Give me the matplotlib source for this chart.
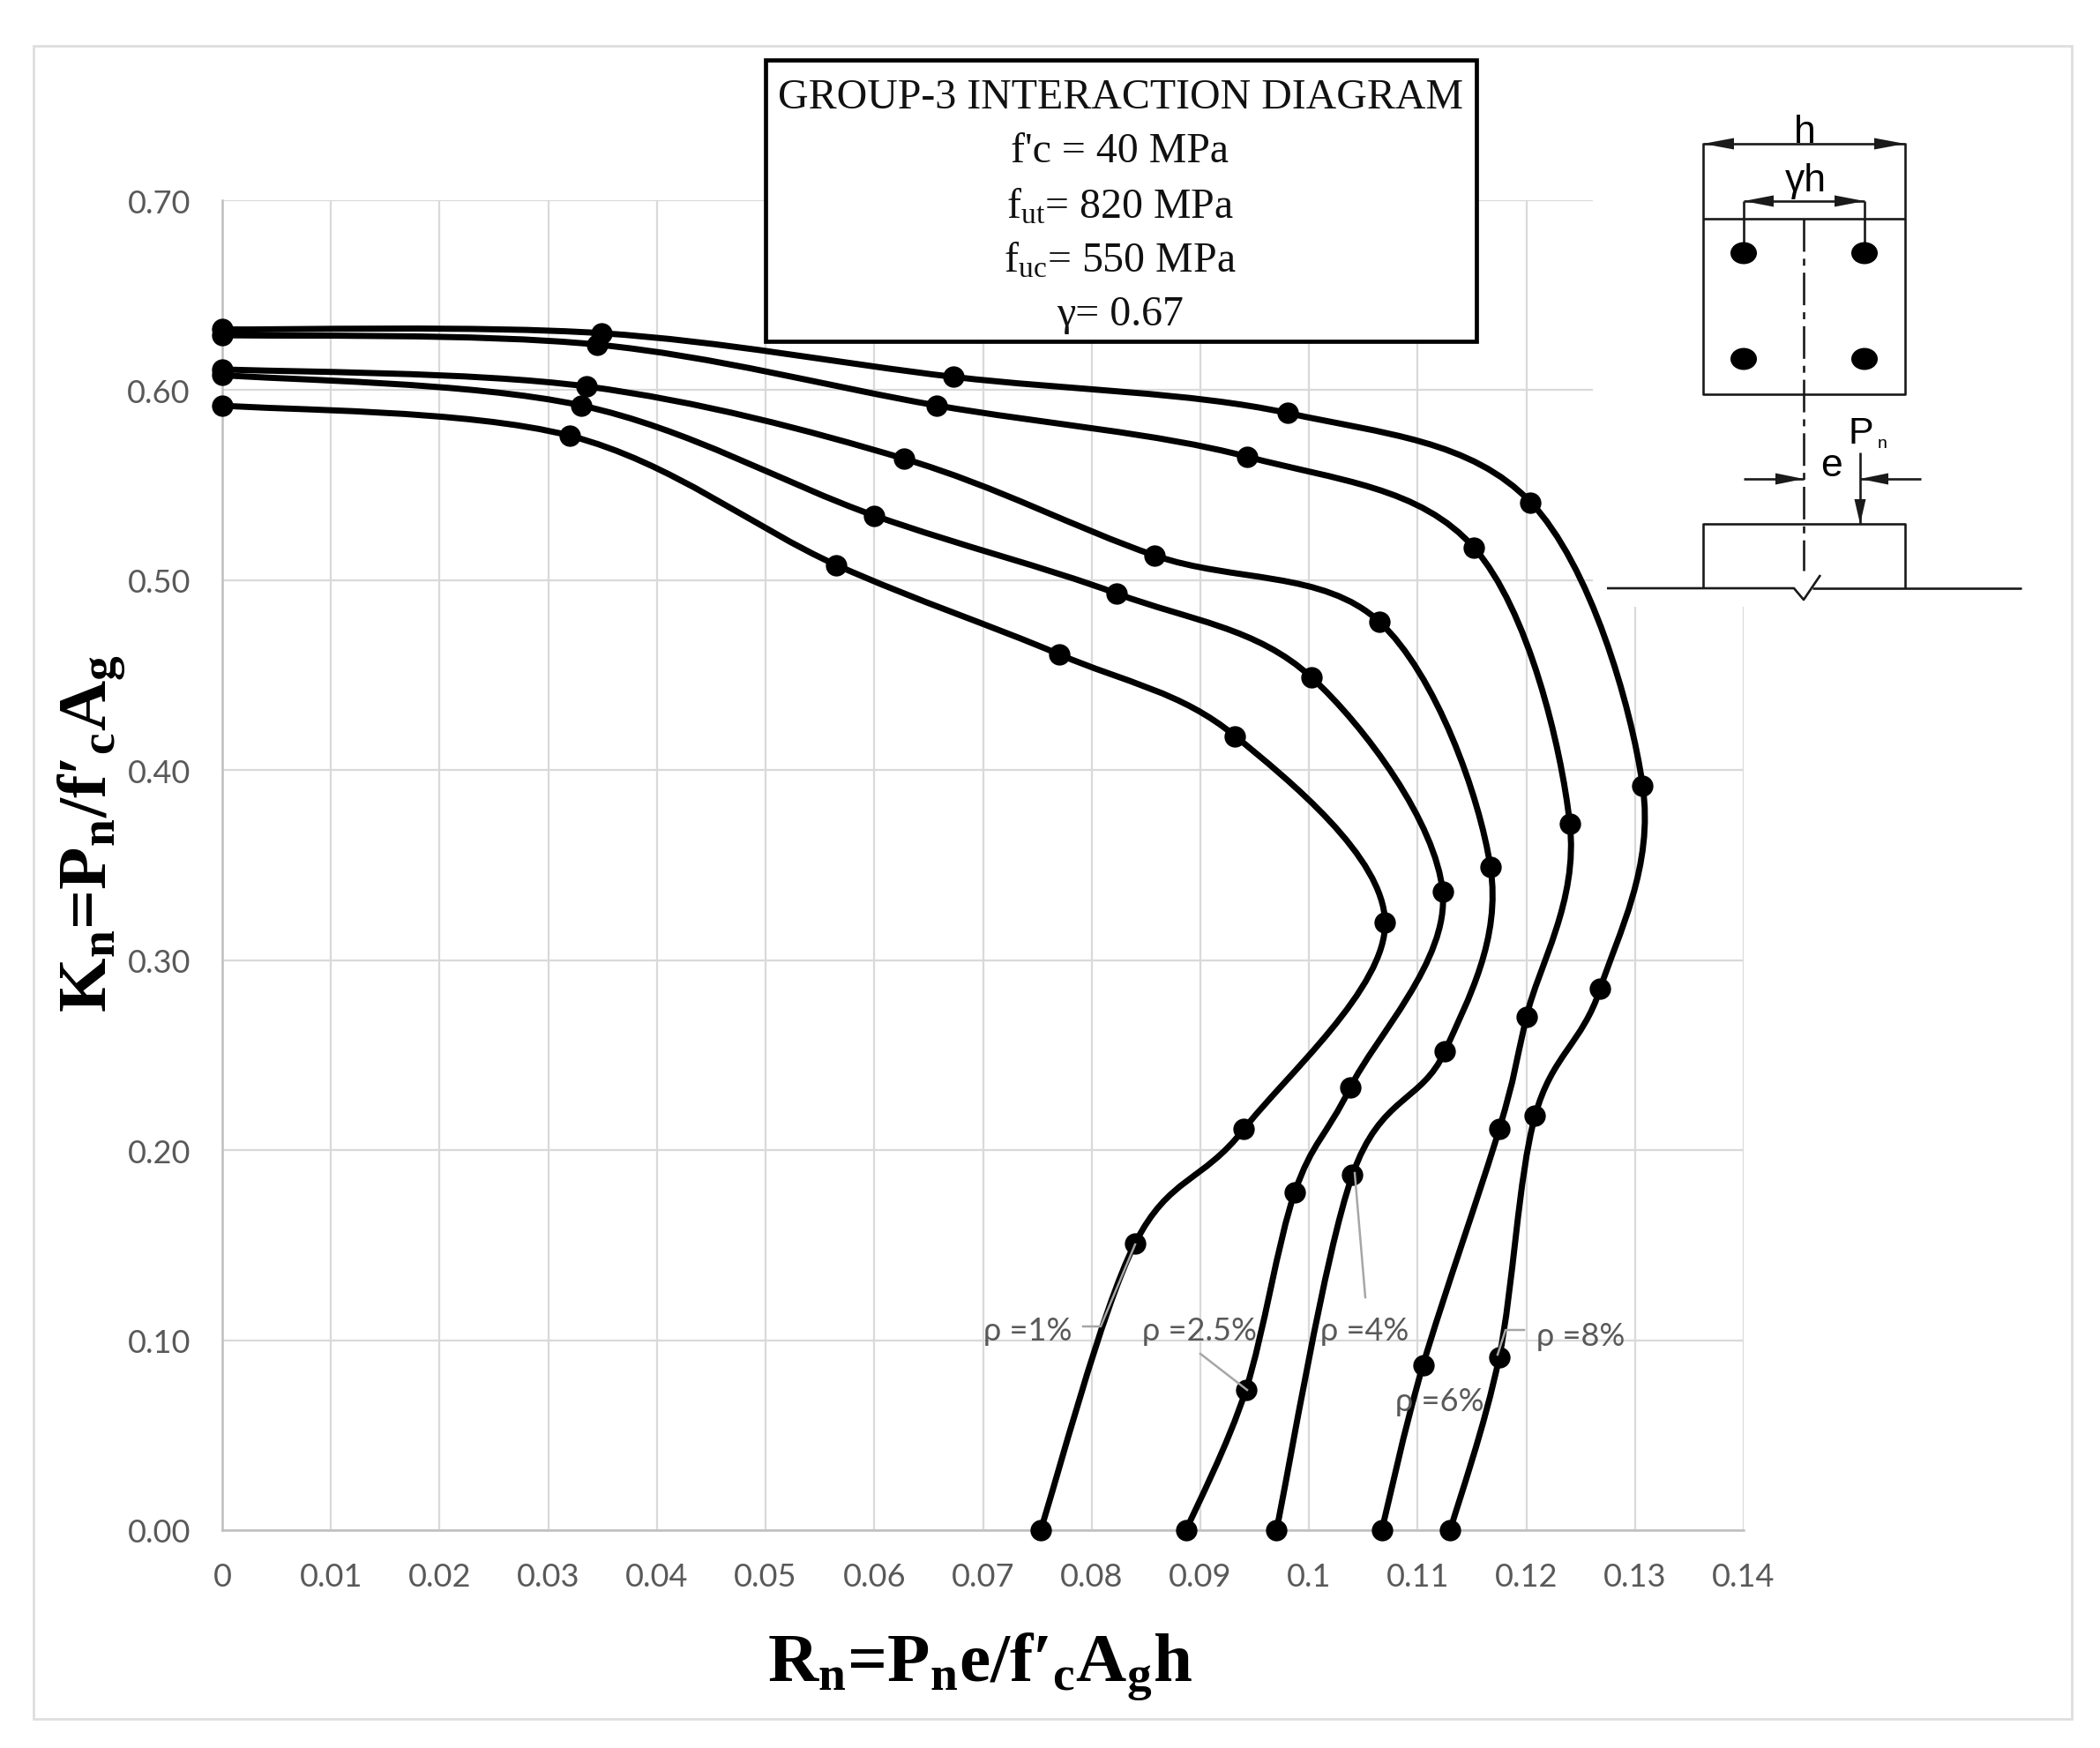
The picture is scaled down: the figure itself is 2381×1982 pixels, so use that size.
import numpy as np
import matplotlib
matplotlib.use("Agg")
import matplotlib.pyplot as plt
from matplotlib.path import Path
from matplotlib.patches import PathPatch, Rectangle, Ellipse, Polygon
from matplotlib.transforms import Affine2D

plt.rcParams['mathtext.fontset'] = 'custom'
plt.rcParams['mathtext.rm'] = 'Liberation Serif'
plt.rcParams['mathtext.it'] = 'Liberation Serif'
plt.rcParams['mathtext.bf'] = 'Liberation Serif:bold'

# ---------- data ----------
rho1_x = [0, 0.032, 0.0565, 0.077, 0.0932, 0.107, 0.094, 0.084, 0.0753]
rho1_y = [0.592, 0.576, 0.508, 0.461, 0.418, 0.320, 0.211, 0.151, 0.0]
rho25_x = [0, 0.033, 0.060, 0.0823, 0.1002, 0.1123, 0.1038, 0.0987, 0.0942, 0.0887]
rho25_y = [0.608, 0.592, 0.534, 0.493, 0.449, 0.336, 0.233, 0.178, 0.074, 0.0]
rho4_x = [0, 0.0335, 0.0627, 0.0858, 0.1065, 0.1167, 0.1125, 0.104, 0.097]
rho4_y = [0.611, 0.602, 0.564, 0.513, 0.478, 0.349, 0.252, 0.187, 0.0]
rho6_x = [0, 0.0345, 0.0657, 0.0943, 0.1152, 0.124, 0.120, 0.1175, 0.1105, 0.1067]
rho6_y = [0.629, 0.624, 0.592, 0.565, 0.517, 0.372, 0.270, 0.211, 0.087, 0.0]
rho8_x = [0, 0.0349, 0.0673, 0.098, 0.1204, 0.1307, 0.1268, 0.1208, 0.1175, 0.113]
rho8_y = [0.632, 0.630, 0.607, 0.588, 0.541, 0.392, 0.285, 0.218, 0.091, 0.0]
series = [(rho1_x, rho1_y), (rho25_x, rho25_y), (rho4_x, rho4_y), (rho6_x, rho6_y), (rho8_x, rho8_y)]

x_ticks = [0, 0.01, 0.02, 0.03, 0.04, 0.05, 0.06, 0.07, 0.08, 0.09, 0.1, 0.11, 0.12, 0.13, 0.14]
x_tick_labels = ['0', '0.01', '0.02', '0.03', '0.04', '0.05', '0.06', '0.07', '0.08', '0.09',
                 '0.1', '0.11', '0.12', '0.13', '0.14']
y_ticks = [0.0, 0.1, 0.2, 0.3, 0.4, 0.5, 0.6, 0.7]
y_tick_labels = ['0.00', '0.10', '0.20', '0.30', '0.40', '0.50', '0.60', '0.70']

W, H = 2381, 1983
fig = plt.figure(figsize=(W / 100, H / 100), dpi=100, facecolor='white')
L, R, T, B = 252, 1977, 228, 1736
ax = fig.add_axes([L / W, 1 - B / H, (R - L) / W, (B - T) / H])
px = Affine2D().scale(1 / W, -1 / H).translate(0, 1) + fig.transFigure

fig.add_artist(Rectangle((38, 53), 2311, 1897, transform=px, fill=False, ec='#DEDEDE', lw=2))

GRID = '#D9D9D9'
TICK = '#595959'
sans = ['Lato', 'DejaVu Sans']
ax.set_xlim(0, 0.14)
ax.set_ylim(0, 0.70)
ax.set_xticks(x_ticks, x_tick_labels, fontsize=26, color=TICK, family=sans)
ax.set_yticks(y_ticks, y_tick_labels, fontsize=26, color=TICK, family=sans)
ax.tick_params(length=0)
ax.tick_params(axis='x', pad=26)
ax.tick_params(axis='y', pad=26)
ax.grid(True, color=GRID, lw=1.6, zorder=1)
ax.set_axisbelow(True)
for s in ['top', 'right']:
    ax.spines[s].set_visible(False)
for s in ['left', 'bottom']:
    ax.spines[s].set_color('#BFBFBF')
    ax.spines[s].set_linewidth(1.8)

# white backing of the pasted section sketch
ax.add_patch(Rectangle((1806, 90), 500, 599, transform=px, fc='white', ec='none', zorder=1.5, clip_on=False))


def smooth_path(xs, ys, k=1 / 6):
    pts = np.column_stack([xs, ys])
    verts = [pts[0]]
    codes = [Path.MOVETO]
    n = len(pts)
    for i in range(n - 1):
        p0 = pts[max(i - 1, 0)]
        p1 = pts[i]
        p2 = pts[i + 1]
        p3 = pts[min(i + 2, n - 1)]
        verts += [p1 + (p2 - p0) * k, p2 - (p3 - p1) * k, p2]
        codes += [Path.CURVE4] * 3
    return Path(verts, codes)


for xs, ys in series:
    ax.add_patch(PathPatch(smooth_path(xs, ys), fc='none', ec='black', lw=5.0, zorder=3,
                           capstyle='round', joinstyle='round', clip_on=False))
    ax.plot(xs, ys, ls='none', marker='o', ms=17.5, color='black', mew=0, zorder=4, clip_on=False)

# leaders and rho labels
LEAD = '#A6A6A6'
leaders = [[(1228, 1505), (1248, 1505), (1287, 1412)],
           [(1361, 1536), (1414, 1577)],
           [(1548, 1472), (1536, 1331)],
           [(1728, 1509), (1707, 1509), (1698, 1537)]]
for seg in leaders:
    a = np.array(seg)
    ax.plot(a[:, 0], a[:, 1], color=LEAD, lw=1.8, transform=px, zorder=5, clip_on=False)
rho_labels = [(1165, 1510, 'ρ =1%'), (1360, 1510, 'ρ =2.5%'), (1547, 1510, 'ρ =4%'),
              (1632, 1590, 'ρ =6%'), (1792, 1515, 'ρ =8%')]
for x, y, s in rho_labels:
    ax.text(x, y, s, transform=px, ha='center', va='center', fontsize=26, color=TICK,
            family=sans, zorder=6, clip_on=False)

# title box
ax.add_patch(Rectangle((868, 69), 806, 319, transform=px, fc='white', ec='black', lw=3.4, zorder=7, clip_on=False))
serif = 'Liberation Serif'
title_lines = [(111, 'GROUP-3 INTERACTION DIAGRAM'), (172, "f'c = 40 MPa"),
               (235, r'f$_{\mathrm{ut}}$= 820 MPa'), (296, r'f$_{\mathrm{uc}}$= 550 MPa'),
               (357, 'γ= 0.67')]
for y, s in title_lines:
    ax.text(1270, y, s, transform=px, ha='center', va='center', fontsize=34.5, family=serif,
            color='#111111', zorder=8, clip_on=False)

# axis titles
bold = dict(fontsize=57, family=serif, fontweight='bold', color='black', clip_on=False)
ax.text(1111, 1890, r"$\mathbf{R_n}$=$\mathbf{P_n}$e/f′$_{\mathbf{c}}$A$_{\mathbf{g}}$h", transform=px,
        ha='center', va='center', **bold)
ax.text(104, 945, r"$\mathbf{K_n}$=$\mathbf{P_n}$/f′$_{\mathbf{c}}$A$_{\mathbf{g}}$", transform=px,
        ha='center', va='center', rotation=90, **bold)

# section sketch
SK = '#1A1A1A'
def line(xs, ys, lw=1.9, **kw):
    ax.plot(xs, ys, color=SK, lw=lw, transform=px, zorder=5, clip_on=False, solid_capstyle='butt', **kw)
def arrow(tip, tail, length=35, half=6.5):
    t = np.array(tip, float); d = np.array(tail, float) - t
    d /= np.hypot(*d)
    n = np.array([-d[1], d[0]])
    ax.add_patch(Polygon([t, t + d * length + n * half, t + d * length - n * half], transform=px,
                         fc=SK, ec='none', zorder=5, clip_on=False))

line([1931, 1931, 2160, 2160], [163, 448, 448, 163])
line([1931, 2160], [249, 249])
line([1931, 2160], [164, 164])
arrow((1931, 164), (2160, 164)); arrow((2160, 164), (1931, 164))
line([1977, 1977], [229, 280]); line([2114, 2114], [229, 280])
line([1977, 2114], [229, 229])
arrow((1977, 229), (2114, 229), 34); arrow((2114, 229), (1977, 229), 34)
for bx in (1977, 2114):
    for by in (288, 408):
        ax.add_patch(Ellipse((bx, by), 30, 25, transform=px, fc='black', ec='none', zorder=5, clip_on=False))
line([2045, 2045], [249, 648], lw=1.9, dashes=(14, 3, 3, 3))
line([1977, 2045], [544, 544]); arrow((2045, 544), (1977, 544), 32)
line([2109, 2178], [544, 544]); arrow((2109, 544), (2178, 544), 32)
line([2109, 2109], [514, 595]); arrow((2109, 595), (2109, 514), 28, 6.5)
line([1931, 1931, 2160, 2160], [668, 595, 595, 668])
line([1822, 2034, 2045, 2064], [668, 668, 681, 653])
line([2055, 2292], [668, 668])
sk_font = dict(transform=px, family='Liberation Sans', color='black', zorder=6, clip_on=False)
ax.text(2046, 150, 'h', ha='center', va='center', fontsize=32, **sk_font)
ax.text(2047, 206, 'γh', ha='center', va='center', fontsize=32, **sk_font)
ax.text(2110, 492, 'P', ha='center', va='center', fontsize=31, **sk_font)
ax.text(2134, 503, 'n', ha='center', va='center', fontsize=14, **sk_font)
ax.text(2076, 528, 'e', ha='center', va='center', fontsize=32, **sk_font)

fig.savefig('out.png', dpi=100, facecolor='white')
